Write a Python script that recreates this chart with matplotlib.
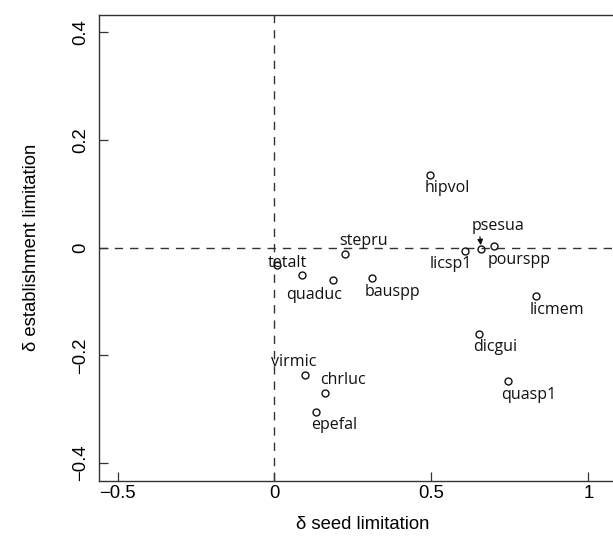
import matplotlib
matplotlib.use('Agg')
import matplotlib.pyplot as plt

# species codes and their deltas
especies = ['hipvol', 'stepru', 'tetalt', 'quaduc', '', 'bauspp', 'licsp1',
            'psesua', 'pourspp', 'licmem', 'dicgui', 'virmic', 'chrluc',
            'epefal', 'quasp1']
semilla = [0.495, 0.224, 0.008, 0.087, 0.185, 0.311, 0.607,
           0.659, 0.700, 0.833, 0.651, 0.098, 0.161, 0.133, 0.745]
establecimiento = [0.135, -0.012, -0.032, -0.050, -0.060, -0.056, -0.007,
                   -0.003, 0.004, -0.090, -0.160, -0.236, -0.270, -0.306, -0.248]

xticks = [-0.5, 0, 0.5, 1]
xticklabels = ['\u22120.5', '0', '0.5', '1']
yticks = [-0.4, -0.2, 0, 0.2, 0.4]
yticklabels = ['\u22120.4', '\u22120.2', '0', '0.2', '0.4']

# label offsets in pixels (dx right, dy down)
desplaz = [(17, 13), (18.6, -13.6), (10, -2), (12, 20), (0, 0), (20, 14),
           (-14, 13), (17, -23), (25, 14), (21, 14), (16, 13), (-12, -13),
           (18, -13), (18, 13), (20, 14)]

gris = '#333333'

fig = plt.figure(figsize=(6.13, 5.41), dpi=100)
ax = fig.add_axes([99 / 613, 60.3 / 541, 527 / 613, 466 / 541])

ax.axhline(0, color=gris, lw=1.0, dashes=(6, 5), zorder=1)
ax.axvline(0, color=gris, lw=1.0, dashes=(6, 5), zorder=1)

ax.plot(semilla, establecimiento, 'o', mfc='none', mec='#111111',
        ms=5, mew=1.0, zorder=2)

for nombre, x, y, (dx, dy) in zip(especies, semilla, establecimiento, desplaz):
    if not nombre:
        continue
    ax.annotate(nombre, xy=(x, y), xytext=(dx * 0.72, -dy * 0.72),
                textcoords='offset points', ha='center', va='center',
                family='Open Sans', fontsize=11.5, color='#111111', zorder=3)
    if nombre == 'psesua':
        # small arrow dropping onto the point
        ax.annotate('', xy=(x, y), xytext=(-1, 9), textcoords='offset points',
                    arrowprops=dict(arrowstyle='-|>', color='#111111', lw=0.9,
                                    mutation_scale=8, shrinkA=0, shrinkB=3),
                    zorder=3)

ax.set_xlim(-0.559, 1.12)
ax.set_ylim(-0.4327, 0.4327)
ax.set_xticks(xticks)
ax.set_xticklabels(xticklabels, family='Liberation Sans', fontsize=13.3)
ax.set_yticks(yticks)
ax.set_yticklabels(yticklabels, family='Liberation Sans', fontsize=13.3,
                   rotation=90, va='center')
ax.tick_params(direction='in', length=6.5, width=0.9, color=gris)
ax.tick_params(axis='x', pad=3)
ax.tick_params(axis='y', pad=7)

for lado in ['left', 'bottom', 'top']:
    ax.spines[lado].set_color(gris)
    ax.spines[lado].set_linewidth(1.0)
ax.spines['right'].set_visible(False)

ax.set_xlabel('\u03b4 seed limitation', family='Liberation Sans',
              fontsize=13.3, labelpad=10)
ax.set_ylabel('\u03b4 establishment limitation', family='Liberation Sans',
              fontsize=13.3, labelpad=23)

fig.savefig('out.png', dpi=100)
